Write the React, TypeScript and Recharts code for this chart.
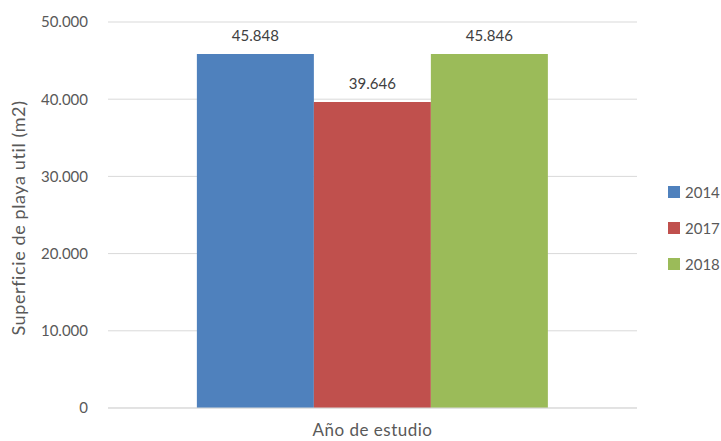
import React from "react";
import { BarChart, Bar, XAxis, YAxis, CartesianGrid, Legend, LabelList, Label } from "recharts";

const categories = [""];
const series2014 = [45848];
const series2017 = [39646];
const series2018 = [45846];
const seriesNames = ["2014", "2017", "2018"];
const yTicks = [0, 10000, 20000, 30000, 40000, 50000];
const yAxisTitle = "Superficie de playa util (m2)";
const xAxisTitle = "Año de estudio";

const colors = ["#4F81BD", "#C0504D", "#9BBB59"];
const FONT = "Lato, 'Open Sans', sans-serif";

const data = categories.map((c, i) => ({
  cat: c,
  [seriesNames[0]]: series2014[i],
  [seriesNames[1]]: series2017[i],
  [seriesNames[2]]: series2018[i],
}));

const fmt = (v: any) => {
  const n = Number(v);
  return n.toLocaleString("de-DE");
};

const LegendContent = (props: any) => {
  const { payload } = props;
  return (
    <div style={{ fontFamily: FONT, fontSize: 15, color: "#595959" }}>
      {(payload || []).map((p: any, i: number) => (
        <div key={i} style={{ display: "flex", alignItems: "center", height: 36 }}>
          <span style={{ display: "inline-block", width: 12, height: 12, background: p.color, marginRight: 5 }} />
          <span>{p.value}</span>
        </div>
      ))}
    </div>
  );
};

export default function App() {
  return (
    <div style={{ position: "absolute", left: 0, top: 0, width: 721, height: 441, background: "#fff" }}>
      <BarChart
        width={721}
        height={441}
        data={data}
        margin={{ top: 22, right: 24, bottom: 0, left: 0 }}
        barCategoryGap="16.8%"
        barGap={0}
      >
        <CartesianGrid vertical={false} stroke="#d9d9d9" />
        <XAxis
          dataKey="cat"
          height={33}
          axisLine={{ stroke: "#d9d9d9" }}
          tickLine={false}
          tick={false}
        >
          <Label
            value={xAxisTitle}
            position="insideBottom"
            offset={5}
            style={{ fontFamily: FONT, fontSize: 17, fill: "#595959", letterSpacing: 0.5 }}
          />
        </XAxis>
        <YAxis
          width={108}
          domain={[0, 50000]}
          ticks={yTicks}
          interval={0}
          axisLine={false}
          tickLine={false}
          tickSize={0}
          tickMargin={20}
          tickFormatter={fmt}
          tick={{ fontFamily: FONT, fontSize: 15, fill: "#595959" }}
        >
          <Label
            content={(p: any) => {
              const vb = p.viewBox || {};
              const cx = (vb.x || 0) + 18;
              const cy = (vb.y || 0) + (vb.height || 0) / 2 + 3;
              return (
                <text
                  x={cx}
                  y={cy}
                  transform={`rotate(-90 ${cx} ${cy})`}
                  textAnchor="middle"
                  dominantBaseline="central"
                  style={{ fontFamily: FONT, fontSize: 18, fill: "#595959", letterSpacing: 0.6 }}
                >
                  {yAxisTitle}
                </text>
              );
            }}
          />
        </YAxis>
        <Legend
          layout="vertical"
          align="right"
          verticalAlign="middle"
          content={<LegendContent />}
          wrapperStyle={{ left: 668, top: 174, width: 60 }}
        />
        {seriesNames.map((s, i) => (
          <Bar key={s} dataKey={s} fill={colors[i]} isAnimationActive={false}>
            <LabelList
              dataKey={s}
              position="top"
              offset={13}
              formatter={fmt}
              style={{ fontFamily: FONT, fontSize: 15, fill: "#404040" }}
            />
          </Bar>
        ))}
      </BarChart>
    </div>
  );
}
